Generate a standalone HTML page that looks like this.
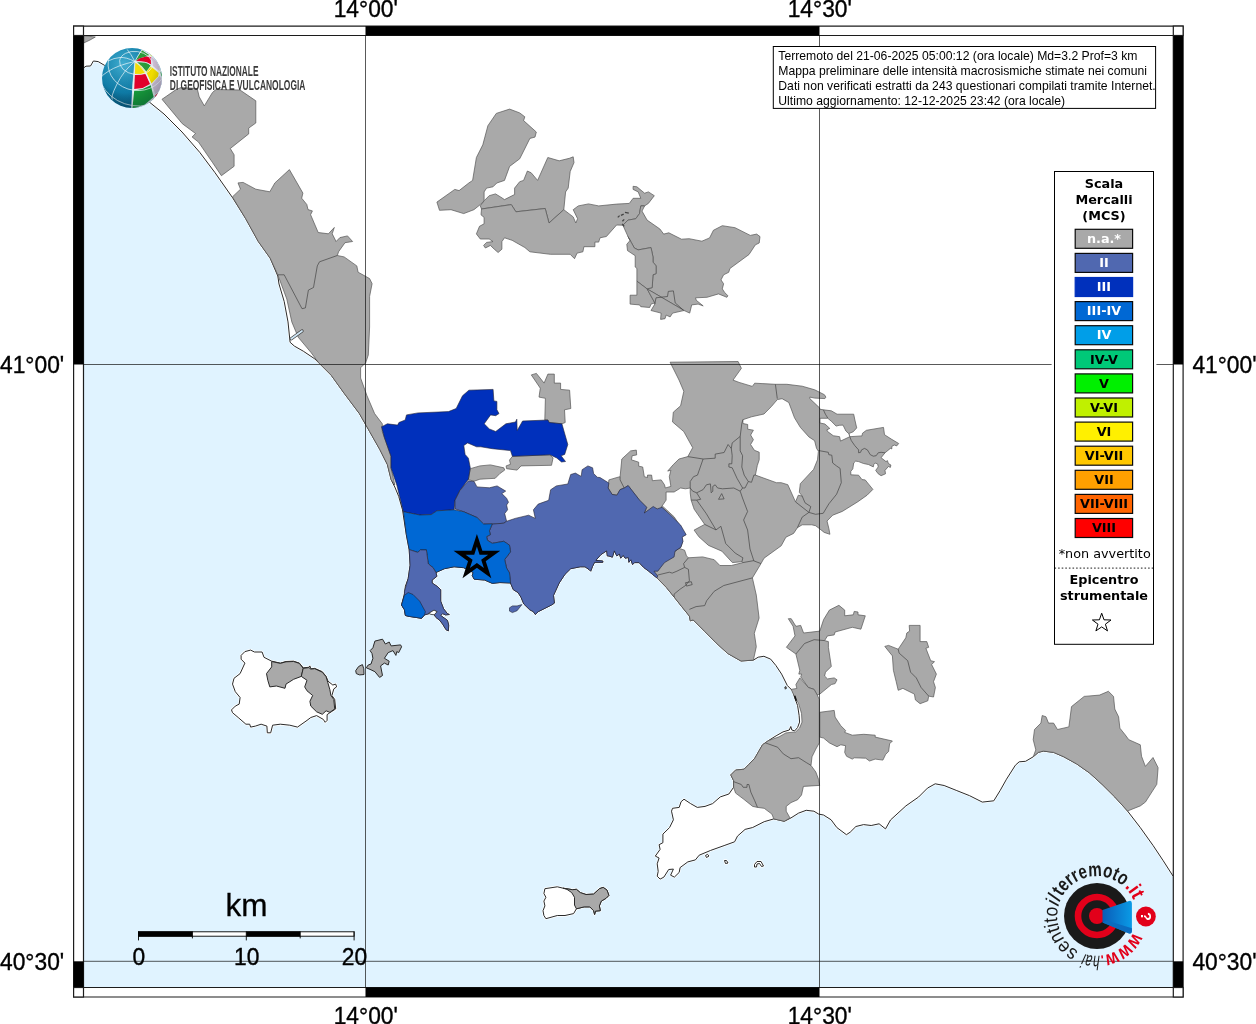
<!DOCTYPE html><html><head><meta charset="utf-8"><title>Mappa intensità macrosismiche</title>
<style>html,body{margin:0;padding:0;background:#fff}svg{display:block}text{font-family:"Liberation Sans",sans-serif;fill:#000}.dj{font-family:"DejaVu Sans",sans-serif}.djb{font-family:"DejaVu Sans",sans-serif;font-weight:bold}</style></head><body>
<svg width="1256" height="1024" viewBox="0 0 1256 1024">
<defs><clipPath id="mapclip"><rect x="83.5" y="35.5" width="1089.8" height="952.0"/></clipPath>
<linearGradient id="cone" x1="0" y1="0" x2="1" y2="0"><stop offset="0" stop-color="#0a5cb8"/><stop offset="1" stop-color="#0a9be6"/></linearGradient>
<radialGradient id="globe" cx="0.35" cy="0.25" r="0.8"><stop offset="0" stop-color="#35a9cf"/><stop offset="0.6" stop-color="#0f7ba6"/><stop offset="1" stop-color="#075a80"/></radialGradient>
<radialGradient id="shade" cx="0.4" cy="0.3" r="0.75"><stop offset="0" stop-color="#fff" stop-opacity="0.08"/><stop offset="0.6" stop-color="#000" stop-opacity="0"/><stop offset="1" stop-color="#002030" stop-opacity="0.32"/></radialGradient>
<clipPath id="gclip"><circle cx="0" cy="0" r="30"/></clipPath>
</defs>
<rect width="1256" height="1024" fill="#fff"/>
<g clip-path="url(#mapclip)">
<polygon points="83.5,68.0 86.0,66.2 90.5,66.0 93.4,61.0 98.2,61.6 104.6,65.4 112.0,69.0 150.0,102.6 164.0,114.0 182.0,132.0 199.7,152.3 215.0,172.7 232.9,198.2 245.6,218.5 258.3,241.5 270.2,258.2 277.8,276.0 279.0,284.0 284.2,301.5 288.0,321.9 290.1,342.3 294.4,346.1 303.3,351.2 314.8,358.9 318.6,362.7 331.3,375.4 344.1,393.2 359.4,413.6 369.6,431.5 379.7,449.3 387.4,464.6 391.2,479.9 394.8,487.0 398.7,496.4 402.5,509.8 406.3,534.7 409.2,549.9 410.1,565.2 408.2,578.6 405.4,586.2 404.4,593.9 401.5,605.0 404.4,609.7 405.4,615.5 409.2,616.4 421.6,618.3 424.5,614.9 429.2,613.6 434.0,610.3 436.9,611.7 434.0,614.5 435.9,617.4 439.7,620.3 442.6,624.1 446.1,629.8 448.4,630.8 448.7,625.0 447.4,620.3 440.7,615.5 442.6,613.6 445.5,614.9 449.3,614.5 447.4,613.6 443.6,608.8 440.7,601.2 440.7,589.7 437.8,586.8 432.1,583.0 432.1,580.1 436.9,576.3 435.9,572.5 444.5,568.7 454.1,566.8 463.6,567.7 473.2,572.5 472.2,575.4 474.1,579.2 484.7,580.1 492.3,583.4 499.9,582.6 510.5,583.0 513.3,589.7 518.1,592.6 521.0,597.3 523.8,604.0 529.6,609.7 533.4,611.7 535.3,614.5 538.2,611.7 551.5,605.0 554.4,603.1 553.5,595.4 559.2,583.0 564.9,574.4 570.7,568.7 580.2,566.8 585.0,566.8 589.0,569.5 590.7,571.2 592.5,566.5 594.6,562.3 602.8,562.3 602.8,561.0 595.8,560.4 600.9,554.6 606.7,550.8 607.3,555.9 609.0,556.0 612.4,557.2 614.3,550.8 616.8,555.9 619.4,554.0 620.7,558.2 623.2,555.3 625.1,558.2 628.3,557.5 628.9,562.3 630.9,559.7 632.5,564.5 634.7,562.6 639.1,562.6 643.6,567.4 648.7,571.2 652.5,574.4 656.9,577.9 666.4,587.5 674.1,597.0 681.7,606.6 689.4,616.1 690.3,620.9 693.2,619.9 704.7,631.4 716.1,642.9 727.6,653.4 741.0,661.0 753.4,660.1 758.2,657.2 763.9,656.3 770.6,659.1 775.9,665.5 781.6,674.1 787.3,685.5 792.7,690.9 794.7,697.7 797.6,705.5 799.1,715.3 799.6,722.1 797.6,727.5 794.7,730.9 791.8,730.0 790.8,726.5 789.3,730.0 783.0,731.9 776.1,735.8 768.3,740.7 762.5,744.8 754.8,758.2 748.9,764.4 744.1,769.2 735.6,770.1 730.8,774.9 733.6,780.6 733.6,787.3 728.9,794.0 720.3,796.9 712.6,803.6 705.0,806.4 697.3,807.4 690.6,803.6 684.0,799.2 681.1,801.7 679.2,807.4 672.5,808.3 671.5,811.2 673.4,819.8 669.6,827.5 662.9,834.1 662.9,842.7 659.1,844.7 660.1,849.4 655.3,856.1 659.1,858.0 657.2,863.8 658.2,871.4 657.2,876.2 660.1,879.1 663.9,877.1 668.7,869.5 673.4,869.1 670.6,875.2 674.4,877.1 679.2,872.4 680.1,867.6 687.8,861.9 695.4,859.9 699.2,855.2 710.7,850.4 724.1,845.6 734.6,841.8 737.5,836.1 745.1,829.4 752.7,827.5 764.2,821.7 773.8,818.9 784.3,821.3 791.0,817.9 798.6,813.1 806.2,810.3 813.9,811.2 818.7,814.1 823.5,815.0 831.1,819.8 836.8,827.5 846.4,834.7 850.2,832.2 855.9,826.5 863.6,824.6 871.2,825.5 879.1,823.8 885.5,828.9 890.6,819.9 905.9,805.9 918.6,797.0 927.5,788.1 935.2,783.8 944.1,785.5 956.8,790.6 969.6,795.7 982.3,802.1 993.8,800.8 1000.1,790.6 1006.5,779.2 1015.4,765.2 1019.2,761.8 1025.6,761.3 1033.2,756.8 1038.3,752.4 1043.4,751.1 1053.6,752.4 1063.8,756.8 1076.6,763.9 1089.3,772.8 1102.0,784.3 1114.8,797.0 1127.5,811.0 1140.3,827.6 1153.0,845.4 1163.2,860.7 1173.0,876.0 1178.3,876.0 1178.3,992.5 78.5,992.5 78.5,68.2" fill="#e0f3ff"/>
<polyline points="83.5,68.0 86.0,66.2 90.5,66.0 93.4,61.0 98.2,61.6 104.6,65.4 112.0,69.0 150.0,102.6 164.0,114.0 182.0,132.0 199.7,152.3 215.0,172.7 232.9,198.2 245.6,218.5 258.3,241.5 270.2,258.2 277.8,276.0 279.0,284.0 284.2,301.5 288.0,321.9 290.1,342.3 294.4,346.1 303.3,351.2 314.8,358.9 318.6,362.7 331.3,375.4 344.1,393.2 359.4,413.6 369.6,431.5 379.7,449.3 387.4,464.6 391.2,479.9 394.8,487.0 398.7,496.4 402.5,509.8 406.3,534.7 409.2,549.9 410.1,565.2 408.2,578.6 405.4,586.2 404.4,593.9 401.5,605.0 404.4,609.7 405.4,615.5 409.2,616.4 421.6,618.3 424.5,614.9 429.2,613.6 434.0,610.3 436.9,611.7 434.0,614.5 435.9,617.4 439.7,620.3 442.6,624.1 446.1,629.8 448.4,630.8 448.7,625.0 447.4,620.3 440.7,615.5 442.6,613.6 445.5,614.9 449.3,614.5 447.4,613.6 443.6,608.8 440.7,601.2 440.7,589.7 437.8,586.8 432.1,583.0 432.1,580.1 436.9,576.3 435.9,572.5 444.5,568.7 454.1,566.8 463.6,567.7 473.2,572.5 472.2,575.4 474.1,579.2 484.7,580.1 492.3,583.4 499.9,582.6 510.5,583.0 513.3,589.7 518.1,592.6 521.0,597.3 523.8,604.0 529.6,609.7 533.4,611.7 535.3,614.5 538.2,611.7 551.5,605.0 554.4,603.1 553.5,595.4 559.2,583.0 564.9,574.4 570.7,568.7 580.2,566.8 585.0,566.8 589.0,569.5 590.7,571.2 592.5,566.5 594.6,562.3 602.8,562.3 602.8,561.0 595.8,560.4 600.9,554.6 606.7,550.8 607.3,555.9 609.0,556.0 612.4,557.2 614.3,550.8 616.8,555.9 619.4,554.0 620.7,558.2 623.2,555.3 625.1,558.2 628.3,557.5 628.9,562.3 630.9,559.7 632.5,564.5 634.7,562.6 639.1,562.6 643.6,567.4 648.7,571.2 652.5,574.4 656.9,577.9 666.4,587.5 674.1,597.0 681.7,606.6 689.4,616.1 690.3,620.9 693.2,619.9 704.7,631.4 716.1,642.9 727.6,653.4 741.0,661.0 753.4,660.1 758.2,657.2 763.9,656.3 770.6,659.1 775.9,665.5 781.6,674.1 787.3,685.5 792.7,690.9 794.7,697.7 797.6,705.5 799.1,715.3 799.6,722.1 797.6,727.5 794.7,730.9 791.8,730.0 790.8,726.5 789.3,730.0 783.0,731.9 776.1,735.8 768.3,740.7 762.5,744.8 754.8,758.2 748.9,764.4 744.1,769.2 735.6,770.1 730.8,774.9 733.6,780.6 733.6,787.3 728.9,794.0 720.3,796.9 712.6,803.6 705.0,806.4 697.3,807.4 690.6,803.6 684.0,799.2 681.1,801.7 679.2,807.4 672.5,808.3 671.5,811.2 673.4,819.8 669.6,827.5 662.9,834.1 662.9,842.7 659.1,844.7 660.1,849.4 655.3,856.1 659.1,858.0 657.2,863.8 658.2,871.4 657.2,876.2 660.1,879.1 663.9,877.1 668.7,869.5 673.4,869.1 670.6,875.2 674.4,877.1 679.2,872.4 680.1,867.6 687.8,861.9 695.4,859.9 699.2,855.2 710.7,850.4 724.1,845.6 734.6,841.8 737.5,836.1 745.1,829.4 752.7,827.5 764.2,821.7 773.8,818.9 784.3,821.3 791.0,817.9 798.6,813.1 806.2,810.3 813.9,811.2 818.7,814.1 823.5,815.0 831.1,819.8 836.8,827.5 846.4,834.7 850.2,832.2 855.9,826.5 863.6,824.6 871.2,825.5 879.1,823.8 885.5,828.9 890.6,819.9 905.9,805.9 918.6,797.0 927.5,788.1 935.2,783.8 944.1,785.5 956.8,790.6 969.6,795.7 982.3,802.1 993.8,800.8 1000.1,790.6 1006.5,779.2 1015.4,765.2 1019.2,761.8 1025.6,761.3 1033.2,756.8 1038.3,752.4 1043.4,751.1 1053.6,752.4 1063.8,756.8 1076.6,763.9 1089.3,772.8 1102.0,784.3 1114.8,797.0 1127.5,811.0 1140.3,827.6 1153.0,845.4 1163.2,860.7 1173.0,876.0" fill="none" stroke="#fff" stroke-width="2.2" stroke-linejoin="round"/>
<polyline points="83.5,68.0 86.0,66.2 90.5,66.0 93.4,61.0 98.2,61.6 104.6,65.4 112.0,69.0 150.0,102.6 164.0,114.0 182.0,132.0 199.7,152.3 215.0,172.7 232.9,198.2 245.6,218.5 258.3,241.5 270.2,258.2 277.8,276.0 279.0,284.0 284.2,301.5 288.0,321.9 290.1,342.3 294.4,346.1 303.3,351.2 314.8,358.9 318.6,362.7 331.3,375.4 344.1,393.2 359.4,413.6 369.6,431.5 379.7,449.3 387.4,464.6 391.2,479.9 394.8,487.0 398.7,496.4 402.5,509.8 406.3,534.7 409.2,549.9 410.1,565.2 408.2,578.6 405.4,586.2 404.4,593.9 401.5,605.0 404.4,609.7 405.4,615.5 409.2,616.4 421.6,618.3 424.5,614.9 429.2,613.6 434.0,610.3 436.9,611.7 434.0,614.5 435.9,617.4 439.7,620.3 442.6,624.1 446.1,629.8 448.4,630.8 448.7,625.0 447.4,620.3 440.7,615.5 442.6,613.6 445.5,614.9 449.3,614.5 447.4,613.6 443.6,608.8 440.7,601.2 440.7,589.7 437.8,586.8 432.1,583.0 432.1,580.1 436.9,576.3 435.9,572.5 444.5,568.7 454.1,566.8 463.6,567.7 473.2,572.5 472.2,575.4 474.1,579.2 484.7,580.1 492.3,583.4 499.9,582.6 510.5,583.0 513.3,589.7 518.1,592.6 521.0,597.3 523.8,604.0 529.6,609.7 533.4,611.7 535.3,614.5 538.2,611.7 551.5,605.0 554.4,603.1 553.5,595.4 559.2,583.0 564.9,574.4 570.7,568.7 580.2,566.8 585.0,566.8 589.0,569.5 590.7,571.2 592.5,566.5 594.6,562.3 602.8,562.3 602.8,561.0 595.8,560.4 600.9,554.6 606.7,550.8 607.3,555.9 609.0,556.0 612.4,557.2 614.3,550.8 616.8,555.9 619.4,554.0 620.7,558.2 623.2,555.3 625.1,558.2 628.3,557.5 628.9,562.3 630.9,559.7 632.5,564.5 634.7,562.6 639.1,562.6 643.6,567.4 648.7,571.2 652.5,574.4 656.9,577.9 666.4,587.5 674.1,597.0 681.7,606.6 689.4,616.1 690.3,620.9 693.2,619.9 704.7,631.4 716.1,642.9 727.6,653.4 741.0,661.0 753.4,660.1 758.2,657.2 763.9,656.3 770.6,659.1 775.9,665.5 781.6,674.1 787.3,685.5 792.7,690.9 794.7,697.7 797.6,705.5 799.1,715.3 799.6,722.1 797.6,727.5 794.7,730.9 791.8,730.0 790.8,726.5 789.3,730.0 783.0,731.9 776.1,735.8 768.3,740.7 762.5,744.8 754.8,758.2 748.9,764.4 744.1,769.2 735.6,770.1 730.8,774.9 733.6,780.6 733.6,787.3 728.9,794.0 720.3,796.9 712.6,803.6 705.0,806.4 697.3,807.4 690.6,803.6 684.0,799.2 681.1,801.7 679.2,807.4 672.5,808.3 671.5,811.2 673.4,819.8 669.6,827.5 662.9,834.1 662.9,842.7 659.1,844.7 660.1,849.4 655.3,856.1 659.1,858.0 657.2,863.8 658.2,871.4 657.2,876.2 660.1,879.1 663.9,877.1 668.7,869.5 673.4,869.1 670.6,875.2 674.4,877.1 679.2,872.4 680.1,867.6 687.8,861.9 695.4,859.9 699.2,855.2 710.7,850.4 724.1,845.6 734.6,841.8 737.5,836.1 745.1,829.4 752.7,827.5 764.2,821.7 773.8,818.9 784.3,821.3 791.0,817.9 798.6,813.1 806.2,810.3 813.9,811.2 818.7,814.1 823.5,815.0 831.1,819.8 836.8,827.5 846.4,834.7 850.2,832.2 855.9,826.5 863.6,824.6 871.2,825.5 879.1,823.8 885.5,828.9 890.6,819.9 905.9,805.9 918.6,797.0 927.5,788.1 935.2,783.8 944.1,785.5 956.8,790.6 969.6,795.7 982.3,802.1 993.8,800.8 1000.1,790.6 1006.5,779.2 1015.4,765.2 1019.2,761.8 1025.6,761.3 1033.2,756.8 1038.3,752.4 1043.4,751.1 1053.6,752.4 1063.8,756.8 1076.6,763.9 1089.3,772.8 1102.0,784.3 1114.8,797.0 1127.5,811.0 1140.3,827.6 1153.0,845.4 1163.2,860.7 1173.0,876.0" fill="none" stroke="#2a2a2a" stroke-width="1" stroke-linejoin="round"/>
<polygon points="241.1,655.4 244.9,651.6 250.6,650.1 254.5,652.0 262.1,652.0 264.0,657.3 271.7,661.2 280.3,663.1 286.0,661.5 293.6,661.2 299.4,663.1 303.2,667.8 308.9,667.3 309.9,665.9 310.8,668.8 314.7,668.4 322.3,671.7 326.1,676.4 328.0,681.2 332.8,685.0 335.7,684.1 336.6,686.9 333.8,688.9 331.9,695.5 334.7,699.4 335.7,708.9 329.9,712.7 327.1,714.7 327.1,720.4 325.2,722.3 323.3,719.4 316.6,715.6 310.8,717.5 307.0,720.4 297.5,727.1 289.8,725.2 280.3,724.2 272.6,725.2 270.7,732.8 267.3,732.8 266.9,726.1 261.1,724.2 255.4,726.1 250.6,727.1 249.7,724.2 245.9,724.2 238.2,717.5 232.5,712.7 231.5,709.9 235.3,706.1 239.2,704.1 240.1,697.5 235.3,691.7 232.5,684.1 234.0,678.3 240.1,673.6 244.9,663.1 241.1,659.2" fill="#fff" stroke="#fff" stroke-width="2.4" stroke-linejoin="round"/>
<polygon points="544.9,888.7 557.3,886.8 563.1,888.2 572.6,889.7 576.4,889.3 580.3,892.6 586.0,894.5 593.6,894.1 599.4,888.7 603.2,887.4 607.0,890.1 608.9,895.4 606.1,898.3 601.3,901.1 599.4,905.9 600.3,910.7 595.5,911.1 594.6,914.5 593.6,910.7 589.8,906.9 584.1,906.9 576.4,908.8 573.6,913.6 565.0,915.5 557.3,915.5 545.9,918.7 543.9,915.5 543.0,910.7 544.9,905.9 543.9,901.1 545.9,897.3 543.9,893.5" fill="#fff" stroke="#fff" stroke-width="2.4" stroke-linejoin="round"/>
<polygon points="705.5,855.5 707.5,854.3 709.0,856.0 706.5,857.5" fill="#fff" stroke="#fff" stroke-width="2.4" stroke-linejoin="round"/>
<polygon points="724.5,860.5 726.5,860.5 728.0,863.0 725.5,863.5" fill="#fff" stroke="#fff" stroke-width="2.4" stroke-linejoin="round"/>
<polygon points="754.5,864.5 757.0,861.5 761.0,861.5 763.5,866.0 761.5,866.5 759.5,863.5 757.0,864.0 756.5,867.0 754.5,867.0" fill="#fff" stroke="#fff" stroke-width="2.4" stroke-linejoin="round"/>
<polygon points="241.1,655.4 244.9,651.6 250.6,650.1 254.5,652.0 262.1,652.0 264.0,657.3 271.7,661.2 280.3,663.1 286.0,661.5 293.6,661.2 299.4,663.1 303.2,667.8 308.9,667.3 309.9,665.9 310.8,668.8 314.7,668.4 322.3,671.7 326.1,676.4 328.0,681.2 332.8,685.0 335.7,684.1 336.6,686.9 333.8,688.9 331.9,695.5 334.7,699.4 335.7,708.9 329.9,712.7 327.1,714.7 327.1,720.4 325.2,722.3 323.3,719.4 316.6,715.6 310.8,717.5 307.0,720.4 297.5,727.1 289.8,725.2 280.3,724.2 272.6,725.2 270.7,732.8 267.3,732.8 266.9,726.1 261.1,724.2 255.4,726.1 250.6,727.1 249.7,724.2 245.9,724.2 238.2,717.5 232.5,712.7 231.5,709.9 235.3,706.1 239.2,704.1 240.1,697.5 235.3,691.7 232.5,684.1 234.0,678.3 240.1,673.6 244.9,663.1 241.1,659.2" fill="#ffffff" stroke="#2a2a2a" stroke-width="1" stroke-linejoin="round"/>
<polygon points="271.7,661.5 280.3,663.4 286.0,661.8 293.6,661.5 299.4,663.4 303.2,668.4 301.3,676.4 293.6,679.3 286.0,684.1 285.0,688.3 276.4,686.0 269.8,686.9 267.8,680.3 266.5,673.6 271.7,666.9" fill="#a9a9a9" stroke="#2a2a2a" stroke-width="1" stroke-linejoin="round"/>
<polygon points="303.2,668.4 308.9,667.6 310.8,669.1 314.7,668.7 322.3,672.2 326.1,676.8 327.7,682.2 329.9,689.8 330.9,695.5 333.8,699.4 334.7,708.9 329.9,712.4 326.1,710.8 322.3,714.3 316.6,711.8 310.8,706.1 309.9,701.3 312.7,695.5 307.0,690.8 304.7,686.9 307.0,680.3 301.3,676.4" fill="#a9a9a9" stroke="#2a2a2a" stroke-width="1" stroke-linejoin="round"/>
<polygon points="355.7,670.7 358.6,666.5 362.4,664.6 363.8,668.8 364.0,674.5 359.6,674.9 356.3,673.6" fill="#a9a9a9" stroke="#2a2a2a" stroke-width="1" stroke-linejoin="round"/>
<polygon points="370.1,650.6 372.9,647.8 374.9,641.1 382.5,639.2 385.4,644.0 389.2,642.0 391.1,645.9 400.6,644.9 401.6,646.8 398.7,652.6 396.8,651.6 395.9,655.4 393.0,650.6 388.2,652.6 384.4,658.3 389.2,661.2 388.2,665.0 384.4,663.1 380.6,665.9 382.5,675.5 379.6,677.4 374.9,671.7 371.0,669.8 366.3,667.8 368.2,665.0 371.0,664.0 372.9,658.3 372.0,653.5" fill="#a9a9a9" stroke="#2a2a2a" stroke-width="1" stroke-linejoin="round"/>
<polygon points="544.9,888.7 557.3,886.8 563.1,888.2 572.6,889.7 576.4,889.3 580.3,892.6 586.0,894.5 593.6,894.1 599.4,888.7 603.2,887.4 607.0,890.1 608.9,895.4 606.1,898.3 601.3,901.1 599.4,905.9 600.3,910.7 595.5,911.1 594.6,914.5 593.6,910.7 589.8,906.9 584.1,906.9 576.4,908.8 573.6,913.6 565.0,915.5 557.3,915.5 545.9,918.7 543.9,915.5 543.0,910.7 544.9,905.9 543.9,901.1 545.9,897.3 543.9,893.5" fill="#ffffff" stroke="#2a2a2a" stroke-width="1" stroke-linejoin="round"/>
<polygon points="563.1,888.2 572.6,889.7 576.4,889.3 580.3,892.6 586.0,894.5 593.6,894.1 599.4,888.7 603.2,887.4 607.0,890.1 608.9,895.4 606.1,898.3 601.3,901.1 599.4,905.9 600.3,910.7 595.5,911.1 594.6,914.5 593.6,910.7 589.8,906.9 584.1,906.9 576.4,908.8 574.5,905.0 574.5,897.3 571.7,892.6 566.9,889.3" fill="#a9a9a9" stroke="#2a2a2a" stroke-width="1" stroke-linejoin="round"/>
<polygon points="705.5,855.5 707.5,854.3 709.0,856.0 706.5,857.5" fill="#ffffff" stroke="#2a2a2a" stroke-width="1" stroke-linejoin="round"/>
<polygon points="724.5,860.5 726.5,860.5 728.0,863.0 725.5,863.5" fill="#ffffff" stroke="#2a2a2a" stroke-width="1" stroke-linejoin="round"/>
<polygon points="754.5,864.5 757.0,861.5 761.0,861.5 763.5,866.0 761.5,866.5 759.5,863.5 757.0,864.0 756.5,867.0 754.5,867.0" fill="#ffffff" stroke="#2a2a2a" stroke-width="1" stroke-linejoin="round"/>
<polygon points="784.8,687.2 785.8,686.6 786.4,688.2 785.4,689.2" fill="#a9a9a9" stroke="#2a2a2a" stroke-width="1" stroke-linejoin="round"/>
<polygon points="83.7,35.7 95.3,37.0 90.0,40.0 83.7,43.0" fill="#a9a9a9" stroke="#555" stroke-width="0.7" stroke-linejoin="round"/>
<polygon points="162.0,99.3 176.8,89.1 181.0,87.6 197.2,88.5 199.2,96.8 204.3,105.9 212.5,92.4 216.0,89.5 240.0,90.0 255.8,100.8 255.8,123.0 248.7,128.1 248.7,133.9 230.3,148.5 234.1,154.8 234.1,166.3 221.4,175.7 212.5,162.5 198.5,142.1 192.1,137.0 195.5,133.5 182.3,123.7" fill="#a9a9a9" stroke="#555" stroke-width="0.7" stroke-linejoin="round"/>
<polygon points="232.4,196.9 240.5,189.2 238.0,182.9 243.1,182.4 255.8,189.2 269.8,191.8 274.9,182.9 289.4,169.6 302.9,193.1 301.7,198.2 306.8,204.5 308.0,209.6 312.4,210.9 310.6,214.7 318.2,232.5 328.4,233.8 334.3,227.5 332.2,233.8 336.1,241.5 339.9,237.6 347.5,235.9 352.6,241.5 345.0,242.7 338.6,251.7 337.3,255.5 344.1,256.9 356.8,265.9 358.1,272.2 369.6,278.6 372.1,283.7 369.6,296.4 369.6,327.0 368.3,355.0 365.7,362.7 360.6,367.8 360.6,378.0 367.0,395.8 374.6,413.6 382.3,423.8 382.3,431.5 384.3,437.2 391.0,456.3 391.0,467.8 394.8,485.0 391.2,479.9 387.4,464.6 379.7,449.3 369.6,431.5 359.4,413.6 344.1,393.2 331.3,375.4 318.6,362.7 311.0,352.5 298.2,337.2 291.8,321.9 286.8,299.0 277.8,274.8 270.2,258.2 258.3,241.5 245.6,218.5" fill="#a9a9a9" stroke="#555" stroke-width="0.7" stroke-linejoin="round"/>
<polygon points="436.9,202.1 454.8,189.4 459.1,190.6 468.8,183.0 472.6,180.4 476.4,157.5 482.8,144.8 487.9,125.7 496.3,113.4 509.6,109.1 519.7,112.9 524.8,116.8 523.6,120.6 536.3,132.0 535.0,137.1 529.9,138.4 523.6,151.1 519.7,158.8 509.6,166.4 504.5,180.4 496.8,183.0 493.0,186.8 486.6,188.1 484.1,191.9 484.1,200.8 480.3,204.6 473.9,209.7 463.7,213.6 451.0,209.7 439.5,210.3" fill="#a9a9a9" stroke="#555" stroke-width="0.7" stroke-linejoin="round"/>
<polygon points="480.3,205.9 484.1,200.8 489.2,195.7 495.5,193.9 500.6,197.0 504.5,199.6 514.6,194.5 514.6,188.1 519.7,181.7 523.6,180.4 527.4,171.0 531.2,172.8 537.6,180.4 547.8,157.5 559.2,160.8 569.4,158.3 573.2,156.8 574.0,162.6 570.2,171.5 568.2,188.1 565.6,191.9 563.8,209.7 549.0,223.0 545.2,208.5 515.9,211.8 511.3,204.6 481.5,209.0" fill="#a9a9a9" stroke="#555" stroke-width="0.7" stroke-linejoin="round"/>
<polygon points="481.5,209.0 511.3,204.6 515.9,211.8 545.2,208.5 549.0,223.0 563.8,209.7 573.2,216.9 575.8,223.0 577.6,218.7 573.2,209.7 578.3,205.9 588.5,203.9 598.7,205.9 616.6,204.1 629.3,203.4 633.1,198.3 640.8,198.3 638.2,191.9 633.1,189.4 633.1,186.3 636.9,186.8 644.6,193.2 648.4,191.9 654.3,195.7 648.4,203.4 644.6,205.9 640.8,205.9 639.5,213.7 635.7,218.8 628.0,220.1 622.9,225.2 616.6,225.0 606.4,236.5 600.0,237.8 598.7,242.1 594.9,242.1 594.9,246.7 583.9,246.7 582.9,251.8 577.1,253.1 574.5,258.7 570.2,254.3 550.3,254.3 529.9,251.8 524.8,247.5 512.1,240.3 504.5,237.8 501.9,241.6 501.9,249.2 498.1,252.5 494.3,249.2 490.4,245.4 485.4,248.0 483.6,245.4 486.6,242.4 493.0,241.6 489.2,239.0 480.3,239.0 476.4,233.9 479.5,226.3 484.1,223.8 484.1,217.4 481.0,214.8" fill="#a9a9a9" stroke="#555" stroke-width="0.7" stroke-linejoin="round"/>
<polygon points="640.8,205.9 644.6,205.9 642.0,211.1 647.1,220.1 659.9,229.0 663.7,234.1 668.8,232.8 681.5,239.2 689.2,238.7 701.9,241.2 709.6,237.9 713.4,230.3 722.3,225.7 735.0,227.7 750.3,235.4 756.7,234.1 760.0,236.6 759.2,243.0 755.4,244.8 749.0,254.5 729.9,268.5 728.7,272.3 723.6,274.8 721.0,279.9 723.6,283.8 722.3,288.9 724.8,292.7 727.9,295.7 726.9,297.3 718.5,293.9 707.0,297.3 695.5,297.8 696.3,300.3 703.2,305.9 698.1,304.1 691.7,304.9 689.7,313.1 684.1,310.5 647.1,288.9 652.2,287.6 653.0,274.8 656.1,273.6 656.1,265.9 653.0,262.1 653.0,257.0 651.0,247.6 638.2,249.9 634.4,248.1 628.0,236.6 622.9,225.2 628.0,220.1 635.7,218.8 639.5,213.7" fill="#a9a9a9" stroke="#555" stroke-width="0.7" stroke-linejoin="round"/>
<polygon points="628.0,236.6 634.4,248.1 638.2,249.9 651.0,247.6 653.0,257.0 653.0,262.1 656.1,265.9 656.1,273.6 653.0,274.8 652.2,287.6 647.1,288.9 636.9,281.2 636.9,268.5 635.2,267.0 635.2,255.7 627.5,250.6 626.8,244.3 630.1,240.4" fill="#a9a9a9" stroke="#555" stroke-width="0.7" stroke-linejoin="round"/>
<polygon points="630.1,295.2 636.9,295.2 636.9,281.2 647.1,288.9 654.8,302.9 651.0,304.1 649.7,307.5 640.8,306.7 639.5,304.9 630.1,304.1" fill="#a9a9a9" stroke="#555" stroke-width="0.7" stroke-linejoin="round"/>
<polygon points="647.1,288.9 684.1,310.5 672.6,313.1 670.1,316.9 666.2,315.1 665.0,318.7 660.6,319.4 661.1,313.1 651.0,310.5 654.8,304.1 654.8,302.9" fill="#a9a9a9" stroke="#555" stroke-width="0.7" stroke-linejoin="round"/>
<polygon points="670.1,362.2 738.1,361.5 741.4,368.3 733.0,380.1 739.1,382.4 752.3,386.4 754.7,383.2 775.4,384.3 786.9,384.3 802.2,386.2 814.7,389.8 824.4,394.7 825.9,397.1 824.9,398.6 814.7,398.1 809.8,397.1 809.8,398.6 819.5,407.8 820.0,409.3 823.4,409.8 831.3,410.8 837.1,414.2 853.7,414.2 854.7,419.1 856.7,427.9 853.2,431.8 848.8,433.5 849.8,436.7 862.0,435.9 862.5,433.2 866.4,430.3 883.5,427.4 884.5,434.7 891.3,439.1 898.7,443.5 896.7,445.9 894.3,445.0 891.8,446.4 891.8,448.9 890.4,448.4 885.0,452.8 881.1,457.7 886.0,461.6 887.4,460.6 888.4,463.5 890.9,465.0 890.4,467.4 888.4,466.5 885.0,470.4 885.5,473.8 881.1,475.7 878.2,473.8 875.7,470.4 878.2,466.9 877.7,464.0 875.2,463.0 873.8,464.5 873.3,466.9 868.4,464.5 863.5,463.5 858.6,461.6 855.7,461.1 853.7,463.0 852.8,468.9 850.8,471.3 850.8,474.8 858.6,475.2 862.0,479.6 865.2,479.9 872.9,489.4 867.1,495.2 857.6,501.9 842.3,511.4 832.7,515.2 827.0,521.0 828.9,528.6 829.9,534.3 824.2,532.4 819.4,528.6 815.6,525.7 811.7,524.8 802.2,524.8 797.4,527.7 793.6,533.4 785.9,537.2 781.2,545.8 764.0,558.2 761.0,563.6 752.4,577.9 756.3,595.1 759.1,618.0 754.3,633.3 756.3,646.7 753.4,660.1 741.0,661.0 727.6,653.4 716.1,642.9 704.7,631.4 693.2,619.9 690.3,620.9 689.4,616.1 681.7,606.6 674.1,597.0 666.4,587.5 656.9,577.9 652.0,570.0 657.8,560.0 670.0,545.0 675.0,530.0 660.0,520.0 644.3,513.3 646.7,507.3 639.5,500.1 628.2,485.6 624.2,488.0 620.1,489.6 616.9,495.2 612.1,494.4 608.1,488.0 608.9,479.9 616.9,477.5 620.1,476.7 621.8,459.0 630.6,450.9 636.3,450.1 636.7,454.9 632.2,455.7 631.4,459.8 638.7,462.2 638.7,466.2 642.7,467.0 644.3,476.7 647.5,477.5 647.5,475.1 651.6,475.1 652.4,480.7 661.2,479.9 664.5,484.8 665.3,488.0 670.9,486.4 669.3,476.7 670.9,470.2 667.7,471.1 673.3,464.6 679.0,459.0 687.8,456.6 692.7,447.7 683.8,431.6 672.5,421.9 673.3,412.2 680.6,405.8 683.8,391.3 679.0,380.0" fill="#a9a9a9" stroke="#555" stroke-width="0.7" stroke-linejoin="round"/>
<polygon points="531.3,374.9 536.4,373.4 544.1,383.1 547.9,374.1 554.3,374.1 554.3,383.1 560.6,383.1 560.6,389.4 569.6,390.2 570.8,408.5 564.5,409.8 565.2,422.5 561.9,423.8 549.2,422.5 547.9,420.0 544.8,420.0 545.4,398.3 539.0,397.1 540.3,388.2" fill="#a9a9a9" stroke="#555" stroke-width="0.7" stroke-linejoin="round"/>
<polygon points="470.3,468.7 479.9,465.9 490.4,464.9 503.8,467.8 504.7,470.1 499.9,473.5 495.2,478.3 479.9,479.2 474.1,481.2 468.4,479.6" fill="#a9a9a9" stroke="#555" stroke-width="0.7" stroke-linejoin="round"/>
<polygon points="512.4,456.3 549.6,454.8 553.1,457.8 551.5,465.3 521.0,465.9 517.1,470.1 506.6,468.7 506.1,465.9 510.5,464.3 509.5,460.1" fill="#a9a9a9" stroke="#555" stroke-width="0.7" stroke-linejoin="round"/>
<polygon points="788.3,618.7 791.2,618.7 795.9,626.3 800.7,625.4 803.6,633.0 819.8,631.1 823.6,619.6 829.4,610.1 838.9,605.3 844.7,610.1 844.7,615.8 853.3,614.8 854.2,611.4 858.0,612.0 858.0,614.8 865.3,615.8 860.9,629.2 852.3,627.3 835.1,632.0 834.2,634.9 827.5,635.9 824.6,640.6 828.4,641.6 828.4,647.3 831.3,666.4 825.5,672.2 824.6,676.0 827.5,678.9 834.2,677.9 837.0,679.8 835.1,683.6 831.3,684.6 819.8,694.1 817.0,695.1 814.1,689.4 808.4,687.5 800.7,676.9 801.7,674.1 798.8,674.1 799.8,670.3 795.9,654.0 786.4,647.3 795.0,635.9 793.1,626.3" fill="#a9a9a9" stroke="#555" stroke-width="0.7" stroke-linejoin="round"/>
<polygon points="791.2,689.4 796.9,688.4 795.9,684.6 799.8,677.9 808.4,687.5 814.1,689.4 817.3,695.1 819.3,699.5 819.3,723.8 819.3,742.9 815.8,749.1 812.0,756.8 811.0,765.4 815.8,772.0 818.7,779.7 819.6,785.4 803.4,786.4 801.5,795.0 797.7,799.7 791.0,802.6 786.2,806.4 786.2,811.2 790.0,817.9 784.3,821.3 773.8,818.9 771.9,814.1 764.2,808.3 757.5,807.4 752.7,806.4 743.2,798.8 735.6,793.1 733.6,787.3 733.6,780.6 730.8,774.9 735.6,770.1 744.1,769.2 748.9,764.4 754.8,758.2 762.5,744.8 768.3,740.7 779.1,736.8 785.9,732.9 795.7,731.9 799.6,728.0 802.0,722.1 801.5,713.4 798.6,703.6 794.7,697.0" fill="#a9a9a9" stroke="#555" stroke-width="0.7" stroke-linejoin="round"/>
<polygon points="819.8,712.3 834.2,710.4 835.1,717.1 840.8,725.7 845.6,730.5 844.7,732.4 852.3,735.2 863.8,734.3 875.2,735.2 875.2,737.1 892.4,741.0 889.6,743.8 888.6,751.5 885.7,754.3 882.9,760.1 875.2,759.1 869.5,761.0 865.7,758.2 854.2,757.8 852.3,759.1 846.6,756.3 844.7,752.4 845.6,745.7 840.8,744.8 837.0,746.7 829.4,742.9 823.6,738.1 819.8,737.1" fill="#a9a9a9" stroke="#555" stroke-width="0.7" stroke-linejoin="round"/>
<polygon points="884.8,646.4 888.6,645.4 898.2,649.2 905.8,637.8 906.8,633.0 909.6,631.1 909.2,625.4 920.1,625.4 920.1,641.6 926.8,641.6 928.7,647.3 925.9,648.3 930.7,660.7 934.5,661.7 931.6,664.5 936.4,674.1 933.5,681.7 935.4,687.5 933.5,697.0 928.7,696.1 927.8,700.8 920.1,703.7 915.4,699.9 914.4,694.1 902.9,688.4 898.2,690.3 896.2,681.7 893.4,670.3 892.4,655.9 888.6,651.2" fill="#a9a9a9" stroke="#555" stroke-width="0.7" stroke-linejoin="round"/>
<polygon points="1033.2,756.8 1035.8,749.9 1033.2,739.7 1034.5,729.5 1040.9,723.1 1042.2,715.5 1046.0,716.8 1048.5,723.1 1053.6,723.1 1057.5,729.5 1068.9,726.9 1071.5,706.6 1084.2,696.4 1099.5,695.1 1108.4,691.3 1113.5,696.4 1114.8,709.1 1118.6,716.8 1119.9,728.2 1125.0,734.6 1128.8,739.7 1140.3,744.8 1141.5,756.2 1145.4,766.4 1153.0,757.5 1158.1,767.7 1156.8,784.3 1145.4,802.1 1140.3,805.9 1127.5,811.0 1114.8,797.0 1102.0,784.3 1089.3,772.8 1076.6,763.9 1063.8,756.8 1053.6,752.4 1043.4,751.1 1038.3,752.4" fill="#a9a9a9" stroke="#555" stroke-width="0.7" stroke-linejoin="round"/>
<polygon points="666.1,492.0 674.1,492.0 680.6,488.0 685.4,488.8 690.2,488.0 690.2,492.8 691.1,500.1 693.5,507.3 694.1,509.1 704.7,524.4 694.1,530.1 698.9,536.8 708.5,545.4 721.9,551.2 732.4,562.6 741.9,561.7 742.9,562.6 731.4,565.5 719.9,565.5 714.2,559.7 702.7,556.9 688.4,557.8 686.5,555.9 684.6,550.2 678.9,548.3 675.0,551.2 680.8,547.3 682.7,541.6 681.7,536.8 685.5,534.9 679.8,525.4 674.1,516.8 662.6,506.2 661.2,507.3 666.1,500.1" fill="#fff" stroke="#555" stroke-width="0.7" stroke-linejoin="round"/>
<polygon points="820.0,418.3 827.8,418.3 831.3,421.2 836.1,426.1 839.1,425.3 843.0,425.1 845.9,431.0 848.8,433.7 849.8,436.7 840.5,441.1 839.6,436.7 833.2,435.7 827.4,431.3 826.9,429.8 829.8,428.4 824.9,424.0 820.0,423.0" fill="#fff" stroke="#555" stroke-width="0.7" stroke-linejoin="round"/>
<polygon points="742.9,419.7 751.5,416.8 764.0,414.0 771.6,406.3 777.3,399.6 782.1,398.7 788.8,402.5 794.5,417.8 800.3,427.3 808.9,436.9 814.6,440.7 816.5,448.3 818.4,451.2 817.5,459.8 813.6,469.4 800.3,483.7 799.3,492.3 802.2,496.1 798.3,495.2 795.5,501.9 787.8,484.7 781.2,482.7 776.4,482.7 758.2,476.1 755.4,475.1 757.3,465.5 759.2,459.8 759.2,452.2 754.4,450.3 750.6,444.5 753.4,439.7 750.6,435.0 753.4,430.2 747.7,429.2 747.7,424.5 742.9,423.5" fill="#fff" stroke="#555" stroke-width="0.7" stroke-linejoin="round"/>
<polyline points="337.3,255.5 319.5,261.8 317.3,265.9 313.5,287.5 308.4,290.1 305.4,307.9 302.0,308.7 284.2,274.8 277.8,274.8" fill="none" stroke="#444" stroke-width="0.7" stroke-linejoin="round"/>
<polyline points="656.0,297.8 667.5,296.5 668.3,291.4 673.4,290.9 675.2,302.9 683.0,309.8" fill="none" stroke="#444" stroke-width="0.7" stroke-linejoin="round"/>
<polyline points="654.8,304.1 656.0,297.8" fill="none" stroke="#444" stroke-width="0.7" stroke-linejoin="round"/>
<polyline points="687.8,456.6 703.1,459.0 715.2,458.2 715.2,454.1 724.1,452.5 728.1,444.5 731.3,448.5 732.2,442.9 740.2,436.4 741.8,423.5 742.9,419.7" fill="none" stroke="#444" stroke-width="0.7" stroke-linejoin="round"/>
<polyline points="703.1,459.0 697.5,475.1 693.5,476.7 690.2,481.5 690.2,488.0" fill="none" stroke="#444" stroke-width="0.7" stroke-linejoin="round"/>
<polyline points="690.2,488.0 692.7,491.2 696.7,492.8 703.1,489.6 706.4,484.8 710.4,483.9 711.2,492.8 712.8,491.2 712.8,486.4 715.2,484.8 717.6,488.0 722.5,488.8 733.8,488.0 740.2,491.2 742.6,488.0" fill="none" stroke="#444" stroke-width="0.7" stroke-linejoin="round"/>
<polyline points="731.3,448.5 732.2,455.7 731.8,463.8 728.9,463.8 728.9,467.0 732.2,467.8 737.0,478.3 742.6,488.0" fill="none" stroke="#444" stroke-width="0.7" stroke-linejoin="round"/>
<polyline points="740.2,436.4 740.2,450.9 742.6,455.7 741.8,467.0 744.2,475.1 748.3,481.5" fill="none" stroke="#444" stroke-width="0.7" stroke-linejoin="round"/>
<polyline points="742.6,488.0 745.0,488.0 748.3,481.5 751.5,482.3 753.9,475.1 755.4,475.1" fill="none" stroke="#444" stroke-width="0.7" stroke-linejoin="round"/>
<polyline points="696.7,492.8 700.7,499.3 696.7,500.1 691.1,500.1" fill="none" stroke="#444" stroke-width="0.7" stroke-linejoin="round"/>
<polyline points="696.7,500.1 706.4,513.8 716.0,529.9 720.9,526.3 725.7,543.5 735.2,553.1 742.9,557.8 741.9,561.7" fill="none" stroke="#444" stroke-width="0.7" stroke-linejoin="round"/>
<polyline points="704.7,524.4 716.0,529.9" fill="none" stroke="#444" stroke-width="0.7" stroke-linejoin="round"/>
<polyline points="740.2,491.2 742.5,498.0 747.6,511.5 743.6,520.0 747.6,530.0 750.0,549.0 753.9,561.0" fill="none" stroke="#444" stroke-width="0.7" stroke-linejoin="round"/>
<polyline points="742.9,562.6 753.4,560.7 761.0,563.6" fill="none" stroke="#444" stroke-width="0.7" stroke-linejoin="round"/>
<polyline points="657.8,575.0 669.3,572.2 672.2,573.1 676.9,571.2 684.6,567.4" fill="none" stroke="#444" stroke-width="0.7" stroke-linejoin="round"/>
<polyline points="688.4,557.8 683.6,563.6 684.6,567.4 688.4,569.3 689.4,580.8 685.5,585.5 679.8,589.4 674.1,594.1 674.1,597.0" fill="none" stroke="#444" stroke-width="0.7" stroke-linejoin="round"/>
<polyline points="689.4,609.4 696.1,606.6 704.7,605.6 706.6,600.8 714.2,591.3 723.8,585.5 752.4,577.9" fill="none" stroke="#444" stroke-width="0.7" stroke-linejoin="round"/>
<polyline points="685.5,582.7 691.3,581.7 692.2,584.6 686.5,586.1 685.5,582.7" fill="none" stroke="#444" stroke-width="0.7" stroke-linejoin="round"/>
<polyline points="718.5,499.3 721.7,493.6 724.1,498.9 718.5,499.3" fill="none" stroke="#444" stroke-width="0.7" stroke-linejoin="round"/>
<polyline points="775.4,384.3 777.3,398.7" fill="none" stroke="#444" stroke-width="0.7" stroke-linejoin="round"/>
<polyline points="818.4,450.5 828.3,452.3 828.8,454.7 831.8,455.2 832.7,463.0 836.6,466.0 840.1,468.4 841.3,482.7 836.6,494.2 828.9,503.8 823.2,513.3 815.6,514.3 808.9,512.4" fill="none" stroke="#444" stroke-width="0.7" stroke-linejoin="round"/>
<polyline points="795.5,501.9 808.9,512.4 810.8,506.6 805.0,502.8 802.2,496.1" fill="none" stroke="#444" stroke-width="0.7" stroke-linejoin="round"/>
<polyline points="808.9,512.4 802.2,517.1 797.4,527.7" fill="none" stroke="#444" stroke-width="0.7" stroke-linejoin="round"/>
<polyline points="823.4,409.8 825.4,414.2 827.8,418.1" fill="none" stroke="#444" stroke-width="0.7" stroke-linejoin="round"/>
<polyline points="849.8,436.7 851.3,440.6 854.7,445.5 858.6,449.9 858.6,452.8 860.6,452.3 861.5,449.9 864.5,448.4 867.4,449.9 870.3,454.7 873.3,456.2 876.2,455.7 878.2,452.8 881.1,452.3 885.0,452.8" fill="none" stroke="#444" stroke-width="0.7" stroke-linejoin="round"/>
<polyline points="620.1,476.7 620.1,479.9 624.2,488.0" fill="none" stroke="#444" stroke-width="0.7" stroke-linejoin="round"/>
<polyline points="422.6,515.0 422.6,521.3" fill="none" stroke="#444" stroke-width="0.7" stroke-linejoin="round"/>
<polyline points="795.9,654.0 804.5,643.5 814.1,639.7 824.6,640.6" fill="none" stroke="#444" stroke-width="0.7" stroke-linejoin="round"/>
<polyline points="765.4,742.9 777.6,747.2 783.3,753.9 791.0,758.7 798.6,757.7 806.2,762.5 811.0,765.4" fill="none" stroke="#444" stroke-width="0.7" stroke-linejoin="round"/>
<polyline points="733.6,781.6 741.3,784.5 743.2,787.3 747.0,787.3 747.0,784.5 748.9,784.5 750.8,792.1 754.7,800.7 757.5,807.4" fill="none" stroke="#444" stroke-width="0.7" stroke-linejoin="round"/>
<polyline points="898.2,649.2 899.1,653.1 907.7,660.7 910.6,672.2 916.3,677.9 921.1,687.5 928.7,696.1" fill="none" stroke="#444" stroke-width="0.7" stroke-linejoin="round"/>
<polygon points="382.3,426.4 387.4,423.8 397.6,425.1 398.9,422.5 405.2,420.0 406.5,414.9 418.0,412.9 448.5,411.6 456.2,408.5 462.5,395.8 468.9,390.2 493.1,389.4 493.9,400.9 496.9,401.4 496.9,409.8 499.0,413.6 495.7,415.7 490.6,414.9 484.2,423.8 489.3,428.9 495.7,431.5 505.9,423.8 515.5,422.0 516.8,419.2 517.2,430.5 522.6,421.0 547.9,420.0 549.2,422.5 561.9,423.8 567.8,444.5 564.7,454.4 561.1,455.8 565.5,461.5 561.5,462.0 556.8,458.0 550.0,454.8 512.4,456.3 510.5,450.6 492.3,448.7 480.8,446.8 476.6,446.8 467.6,442.9 463.8,445.5 465.1,454.4 468.4,458.2 470.3,467.8 468.4,479.2 459.8,490.7 455.0,500.3 454.1,509.8 436.9,510.8 431.2,514.6 419.7,515.0 403.4,511.7 401.5,504.1 396.8,485.0 391.0,467.8 391.0,456.3 384.3,437.2 381.5,426.7" fill="#0030bc" stroke="#223" stroke-width="0.6" stroke-linejoin="round"/>
<polygon points="468.4,480.8 474.1,481.5 477.0,486.9 489.4,487.8 497.1,485.9 505.7,491.1 501.9,493.6 506.6,498.3 508.5,502.2 506.6,505.0 507.6,509.8 504.7,513.6 506.6,521.3 503.8,523.2 494.2,524.1 492.3,523.8 483.7,524.1 477.0,517.5 463.6,511.7 455.0,508.9 455.0,500.3 459.8,490.7" fill="#5068b0" stroke="#223" stroke-width="0.6" stroke-linejoin="round"/>
<polygon points="492.3,524.1 503.8,523.2 506.6,521.3 515.2,518.4 528.6,515.2 535.3,518.4 533.4,509.8 538.2,504.1 548.7,500.3 550.6,489.8 556.3,485.9 567.8,484.0 570.7,474.5 575.4,473.1 581.2,476.4 582.1,469.7 587.9,465.9 592.6,467.8 593.6,473.5 597.4,477.3 600.0,477.5 608.9,483.1 608.1,488.0 612.1,494.4 616.9,495.2 620.1,489.6 624.2,488.0 628.2,485.6 639.5,500.1 646.7,507.3 644.3,513.0 653.2,506.5 657.2,508.9 662.0,507.3 670.9,515.4 680.6,525.0 686.2,534.7 682.2,537.1 683.0,541.2 680.8,547.3 675.0,551.2 674.1,556.9 664.5,562.6 660.7,567.4 657.8,571.2 654.0,571.2 657.8,576.0 656.9,577.9 652.5,574.4 648.7,571.2 643.6,567.4 639.1,562.6 634.7,562.6 632.5,564.5 630.9,559.7 628.9,562.3 628.3,557.5 625.1,558.2 623.2,555.3 620.7,558.2 619.4,554.0 616.8,555.9 614.3,550.8 612.4,557.2 609.0,556.0 607.3,555.9 606.7,550.8 600.9,554.6 595.8,560.4 602.8,561.0 602.8,562.3 594.6,562.3 592.5,566.5 590.7,571.2 589.0,569.5 585.0,566.8 580.2,566.8 570.7,568.7 564.9,574.4 559.2,583.0 553.5,595.4 554.4,603.1 551.5,605.0 538.2,611.7 535.3,614.5 533.4,611.7 529.6,609.7 523.8,604.0 521.0,597.3 518.1,592.6 513.3,589.7 510.5,583.0 509.5,572.9 506.6,568.1 504.7,559.5 510.5,551.9 509.5,545.2 503.8,541.3 492.3,543.3 487.5,540.4 486.6,536.6 490.4,534.7 489.4,530.8" fill="#5068b0" stroke="#223" stroke-width="0.6" stroke-linejoin="round"/>
<polygon points="403.4,511.7 419.7,515.0 431.2,514.6 436.9,510.8 454.1,509.8 463.6,511.7 477.0,517.5 483.7,524.1 492.3,523.8 489.4,530.8 490.4,534.7 486.6,536.6 487.5,540.4 492.3,543.3 503.8,541.3 509.5,545.2 510.5,551.9 504.7,559.5 506.6,568.1 509.5,572.9 510.5,583.0 499.9,582.6 492.3,583.4 484.7,580.1 474.1,579.2 472.2,575.4 473.2,572.5 463.6,567.7 454.1,566.8 444.5,568.7 435.9,572.5 433.1,567.7 428.3,563.9 426.4,549.9 420.6,549.9 417.8,552.4 409.2,549.6 406.3,534.7" fill="#0068d4" stroke="#223" stroke-width="0.6" stroke-linejoin="round"/>
<polygon points="409.2,549.6 417.8,552.4 420.6,549.9 426.4,549.9 428.3,563.9 433.1,567.7 435.9,572.5 436.9,576.3 432.1,580.1 432.1,583.0 437.8,586.8 440.7,589.7 440.7,601.2 443.6,608.8 447.4,613.6 449.3,614.5 445.5,614.9 442.6,613.6 440.7,615.5 447.4,620.3 448.7,625.0 448.4,630.8 446.1,629.8 442.6,624.1 439.7,620.3 435.9,617.4 434.0,614.5 436.9,611.7 434.0,610.3 429.2,613.6 424.5,614.9 421.6,618.3 409.2,616.4 405.4,615.5 404.4,609.7 401.5,605.0 404.4,595.4 404.4,591.6 408.2,578.2 410.1,565.2" fill="#5068b0" stroke="#223" stroke-width="0.6" stroke-linejoin="round"/>
<polygon points="404.4,595.4 408.2,592.5 413.0,594.5 419.7,601.2 425.4,611.7 424.5,614.9 421.6,618.3 409.2,616.4 405.4,615.5 404.4,609.7 401.5,605.0" fill="#0068d4" stroke="#223" stroke-width="0.6" stroke-linejoin="round"/>
<polygon points="509.5,607.8 512.4,605.9 517.1,605.9 521.9,604.6 517.1,610.7 512.4,612.6 509.5,611.1" fill="#5068b0" stroke="#223" stroke-width="0.6" stroke-linejoin="round"/>
<line x1="291.3" y1="338.8" x2="302" y2="331" stroke="#3c3c3c" stroke-width="3.2" stroke-linecap="round"/>
<line x1="291.3" y1="338.8" x2="302" y2="331" stroke="#cfe6f5" stroke-width="1.8" stroke-linecap="round"/>
<polygon points="428.6,613.4 434,610.1 437.1,611.7 434.2,614.8 431,614.4" fill="#fff" stroke="#2a2a2a" stroke-width="0.8"/>
<line x1="794.7" y1="695.8" x2="796.3" y2="700.7" stroke="#111" stroke-width="1.6"/>
<line x1="617.8" y1="217.4" x2="619.6" y2="215.6" stroke="#444" stroke-width="1.3"/>
<line x1="620.9" y1="215.4" x2="623.7" y2="214.1" stroke="#444" stroke-width="1.3"/>
<line x1="625.0" y1="212.3" x2="628.8" y2="213.1" stroke="#444" stroke-width="1.3"/>
<line x1="622.4" y1="221.2" x2="624.2" y2="219.4" stroke="#444" stroke-width="1.3"/>
<line x1="622.2" y1="223.8" x2="624.2" y2="226.3" stroke="#444" stroke-width="1.3"/>
</g>
<line x1="365.5" y1="35.5" x2="365.5" y2="987.5" stroke="#111" stroke-width="0.7"/>
<line x1="819.5" y1="35.5" x2="819.5" y2="987.5" stroke="#111" stroke-width="0.7"/>
<line x1="83.5" y1="364.5" x2="1173.3" y2="364.5" stroke="#111" stroke-width="0.7"/>
<line x1="83.5" y1="961.3" x2="1173.3" y2="961.3" stroke="#111" stroke-width="0.7"/>
<path d="M73.6 26.1H1183.1V997.0H73.6Z M83.5 35.5H1173.3V987.5H83.5Z" fill="#fff" fill-rule="evenodd" stroke="#1c1c1c" stroke-width="1.2"/>
<rect x="365.5" y="26.1" width="454.0" height="9.4" fill="#000"/>
<rect x="365.5" y="987.5" width="454.0" height="9.5" fill="#000"/>
<rect x="73.6" y="35.5" width="9.9" height="329.0" fill="#000"/>
<rect x="1173.3" y="35.5" width="9.8" height="329.0" fill="#000"/>
<rect x="73.6" y="961.3" width="9.9" height="26.2" fill="#000"/>
<rect x="1173.3" y="961.3" width="9.8" height="26.2" fill="#000"/>
<rect x="73.6" y="26.1" width="9.9" height="9.4" fill="#fff" stroke="#1c1c1c" stroke-width="1.2"/>
<rect x="1173.3" y="26.1" width="9.8" height="9.4" fill="#fff" stroke="#1c1c1c" stroke-width="1.2"/>
<rect x="73.6" y="987.5" width="9.9" height="9.5" fill="#fff" stroke="#1c1c1c" stroke-width="1.2"/>
<rect x="1173.3" y="987.5" width="9.8" height="9.5" fill="#fff" stroke="#1c1c1c" stroke-width="1.2"/>
<g font-size="22.8" stroke="#000" stroke-width="0.35">
<text transform="translate(333.70,16.60) scale(1,1.055)">14°00'</text>
<text transform="translate(787.70,16.60) scale(1,1.055)">14°30'</text>
<text transform="translate(333.70,1023.80) scale(1,1.055)">14°00'</text>
<text transform="translate(787.70,1023.80) scale(1,1.055)">14°30'</text>
<text transform="translate(0.00,372.75) scale(1,1.055)">41°00'</text>
<text transform="translate(0.00,969.55) scale(1,1.055)">40°30'</text>
<text transform="translate(1192.40,372.75) scale(1,1.055)">41°00'</text>
<text transform="translate(1192.40,969.55) scale(1,1.055)">40°30'</text>
</g>
<polygon points="476.9,540.2 481.0,552.8 494.2,552.8 483.5,560.5 487.6,573.1 476.9,565.3 466.2,573.1 470.3,560.5 459.6,552.8 472.8,552.8" fill="none" stroke="#000" stroke-width="3.9" stroke-linejoin="miter" stroke-miterlimit="6"/>
<rect x="773.3" y="46.5" width="382.3" height="61.9" fill="#fff" stroke="#000" stroke-width="1"/>
<text transform="translate(778.3,59.50) scale(1,1.05)" font-size="12.2">Terremoto del 21-06-2025 05:00:12 (ora locale) Md=3.2 Prof=3 km</text>
<text transform="translate(778.3,74.63) scale(1,1.05)" font-size="12.2">Mappa preliminare delle intensità macrosismiche stimate nei comuni</text>
<text transform="translate(778.3,89.76) scale(1,1.05)" font-size="12.2">Dati non verificati estratti da 243 questionari compilati tramite Internet.</text>
<text transform="translate(778.3,104.89) scale(1,1.05)" font-size="12.2">Ultimo aggiornamento: 12-12-2025 23:42 (ora locale)</text>
<rect x="1051.6" y="168.6" width="104.8" height="478.6" fill="#fff"/>
<rect x="1054.5" y="171.5" width="99.0" height="472.8" fill="#fff" stroke="#000" stroke-width="1"/>
<text class="djb" x="1104.0" y="187.9" font-size="12.8" text-anchor="middle">Scala</text>
<text class="djb" x="1104.0" y="203.8" font-size="12.8" text-anchor="middle">Mercalli</text>
<text class="djb" x="1104.0" y="219.8" font-size="12.8" text-anchor="middle">(MCS)</text>
<rect x="1075.2" y="229.3" width="57.4" height="19.0" fill="#a9a9a9" stroke="#0a0a0a" stroke-width="1.2"/>
<text class="djb" x="1104.0" y="243.0" font-size="12.8" text-anchor="middle" style="fill:#fff">n.a.*</text>
<rect x="1075.2" y="253.4" width="57.4" height="19.0" fill="#5068b0" stroke="#0a0a0a" stroke-width="1.2"/>
<text class="djb" x="1104.0" y="267.1" font-size="12.8" text-anchor="middle" style="fill:#fff">II</text>
<rect x="1075.2" y="277.5" width="57.4" height="19.0" fill="#0030bc" stroke="#0030bc" stroke-width="1.2"/>
<text class="djb" x="1104.0" y="291.2" font-size="12.8" text-anchor="middle" style="fill:#fff">III</text>
<rect x="1075.2" y="301.6" width="57.4" height="19.0" fill="#0068d4" stroke="#0a0a0a" stroke-width="1.2"/>
<text class="djb" x="1104.0" y="315.3" font-size="12.8" text-anchor="middle" style="fill:#fff">III-IV</text>
<rect x="1075.2" y="325.7" width="57.4" height="19.0" fill="#009ee8" stroke="#0a0a0a" stroke-width="1.2"/>
<text class="djb" x="1104.0" y="339.4" font-size="12.8" text-anchor="middle" style="fill:#fff">IV</text>
<rect x="1075.2" y="349.8" width="57.4" height="19.0" fill="#00c878" stroke="#0a0a0a" stroke-width="1.2"/>
<text class="djb" x="1104.0" y="363.5" font-size="12.8" text-anchor="middle" style="fill:#000">IV-V</text>
<rect x="1075.2" y="373.9" width="57.4" height="19.0" fill="#00f000" stroke="#0a0a0a" stroke-width="1.2"/>
<text class="djb" x="1104.0" y="387.6" font-size="12.8" text-anchor="middle" style="fill:#000">V</text>
<rect x="1075.2" y="398.0" width="57.4" height="19.0" fill="#c0f000" stroke="#0a0a0a" stroke-width="1.2"/>
<text class="djb" x="1104.0" y="411.7" font-size="12.8" text-anchor="middle" style="fill:#000">V-VI</text>
<rect x="1075.2" y="422.1" width="57.4" height="19.0" fill="#fff000" stroke="#0a0a0a" stroke-width="1.2"/>
<text class="djb" x="1104.0" y="435.8" font-size="12.8" text-anchor="middle" style="fill:#000">VI</text>
<rect x="1075.2" y="446.2" width="57.4" height="19.0" fill="#ffc800" stroke="#0a0a0a" stroke-width="1.2"/>
<text class="djb" x="1104.0" y="459.9" font-size="12.8" text-anchor="middle" style="fill:#000">VI-VII</text>
<rect x="1075.2" y="470.3" width="57.4" height="19.0" fill="#ffa000" stroke="#0a0a0a" stroke-width="1.2"/>
<text class="djb" x="1104.0" y="484.0" font-size="12.8" text-anchor="middle" style="fill:#000">VII</text>
<rect x="1075.2" y="494.4" width="57.4" height="19.0" fill="#ff6400" stroke="#0a0a0a" stroke-width="1.2"/>
<text class="djb" x="1104.0" y="508.1" font-size="12.8" text-anchor="middle" style="fill:#000">VII-VIII</text>
<rect x="1075.2" y="518.5" width="57.4" height="19.0" fill="#ff0000" stroke="#0a0a0a" stroke-width="1.2"/>
<text class="djb" x="1104.0" y="532.2" font-size="12.8" text-anchor="middle" style="fill:#000">VIII</text>
<text class="dj" x="1104.7" y="558" font-size="12.8" text-anchor="middle">*non avvertito</text>
<line x1="1054.5" y1="568.1" x2="1153.5" y2="568.1" stroke="#000" stroke-width="0.9" stroke-dasharray="1.6,2"/>
<text class="djb" x="1104.0" y="584.1" font-size="12.8" text-anchor="middle">Epicentro</text>
<text class="djb" x="1104.0" y="600.1" font-size="12.8" text-anchor="middle">strumentale</text>
<polygon points="1101.7,613.2 1104.0,619.8 1111.0,620.0 1105.4,624.2 1107.5,630.9 1101.7,626.9 1095.9,630.9 1098.0,624.2 1092.4,620.0 1099.4,619.8" fill="#fff" stroke="#000" stroke-width="1"/>
<rect x="138.5" y="931.8" width="215.6" height="4.4" fill="#fff" stroke="#000" stroke-width="0.9"/>
<rect x="138.5" y="931.4" width="53.9" height="5.2" fill="#000"/>
<rect x="246.3" y="931.4" width="53.9" height="5.2" fill="#000"/>
<line x1="138.5" y1="931.4" x2="138.5" y2="940.4" stroke="#000" stroke-width="0.9"/>
<line x1="192.4" y1="931.4" x2="192.4" y2="938.4" stroke="#000" stroke-width="0.9"/>
<line x1="246.3" y1="931.4" x2="246.3" y2="940.4" stroke="#000" stroke-width="0.9"/>
<line x1="300.2" y1="931.4" x2="300.2" y2="938.4" stroke="#000" stroke-width="0.9"/>
<line x1="354.1" y1="931.4" x2="354.1" y2="940.4" stroke="#000" stroke-width="0.9"/>
<text x="246.6" y="916.3" font-size="31.5" stroke="#000" stroke-width="0.3" text-anchor="middle">km</text>
<text transform="translate(138.9,965.2) scale(1,1.055)" font-size="22.8" stroke="#000" stroke-width="0.35" text-anchor="middle">0</text>
<text transform="translate(246.7,965.2) scale(1,1.055)" font-size="22.8" stroke="#000" stroke-width="0.35" text-anchor="middle">10</text>
<text transform="translate(354.5,965.2) scale(1,1.055)" font-size="22.8" stroke="#000" stroke-width="0.35" text-anchor="middle">20</text>
<g transform="translate(132,78)">
<circle r="30" fill="url(#globe)"/>
<g clip-path="url(#gclip)">
<polygon points="2.9,-16.5 9.9,-29 32,-29 32,32 -0.6,32 0.8,5" fill="#e6eef2"/>
<polygon points="2.9,-16.5 9.9,-27.8 17.2,-23.1 14.3,-21.6 7,-19.4 4,-17.2" fill="#2a9d3a"/>
<polygon points="4,-16.8 7,-19.4 14.3,-21.6 18.7,-20.9 19,-13.6 14.3,-15.8 7,-16.5" fill="#e4002b"/>
<polygon points="19.4,-21.6 24.5,-16.8 27.8,-10.3 27.5,-5.9 19.4,-12.5 19,-20.5" fill="#cdbfd6"/>
<polygon points="17.2,-24.5 20,-22 19.4,-21.6" fill="#f2d800"/>
<polygon points="5.1,-15.8 14.3,-15.4 18.7,-12.5 14.3,-6.6 9.9,-11.7" fill="#2a9d3a"/>
<polygon points="3.3,-15.4 8.4,-12.5 12.8,-6.6 13.6,-4.8 7.7,-3.7 2.9,-4" fill="#f7e200"/>
<polygon points="19,-11.4 26.7,-5.1 26,-1.5 19.4,5.5 14.3,-5.9" fill="#f0dc00"/>
<polygon points="2.9,-2.9 13.6,-4 18,5.9 10.6,9.9 2.2,11" fill="#e4002b"/>
<polygon points="2.2,12.5 10.6,11 18.7,7.3 21.6,19 12.8,26.4 0.4,31" fill="#169a3c"/>
<polygon points="19.8,6.6 27.5,-2.2 31,2.9 28.5,12.5 22.3,16.8" fill="#cdbfd6"/>
<polygon points="22.5,18 26.5,14.5 24,19.5" fill="#e4002b"/>
<polygon points="28.3,-6.5 30.5,-3.5 29.5,-1.5" fill="#2a9d3a"/>
<path d="M2.9,-16.5 Q-8,-8 -15,6 T-19.5,21.5" fill="none" stroke="#eef8fc" stroke-width="0.7"/>
<path d="M2.9,-16.5 Q-14,-13 -24,-6.5 T-30,1" fill="none" stroke="#eef8fc" stroke-width="0.7"/>
<path d="M2.9,-16.5 Q-6,-21 -12,-20.5 T-24,-17" fill="none" stroke="#eef8fc" stroke-width="0.7"/>
<path d="M2.9,-16.5 Q-1,-24 -4.8,-28.5" fill="none" stroke="#eef8fc" stroke-width="0.7"/>
<path d="M2.9,-16.5 Q6,-23 9.9,-27.8" fill="none" stroke="#eef8fc" stroke-width="0.7"/>
<path d="M2.9,-16.5 Q0.5,5 -0.4,30" fill="none" stroke="#eef8fc" stroke-width="0.7"/>
<path d="M2.9,-16.5 Q12,-10 18.5,5 T22,19" fill="none" stroke="#eef8fc" stroke-width="0.7"/>
<path d="M2.9,-16.5 Q14,-17 19,-13 T28,-6" fill="none" stroke="#eef8fc" stroke-width="0.7"/>
<ellipse cx="4" cy="-15" rx="16.5" ry="11.5" transform="rotate(8 4 -15)" fill="none" stroke="#eef8fc" stroke-width="0.7"/>
<ellipse cx="5" cy="-13" rx="29" ry="25.5" transform="rotate(8 5 -13)" fill="none" stroke="#eef8fc" stroke-width="0.7"/>
<ellipse cx="6" cy="-11" rx="41" ry="39" transform="rotate(8 6 -11)" fill="none" stroke="#eef8fc" stroke-width="0.7"/>
<circle r="30" fill="url(#shade)"/>
</g></g>
<g font-weight="bold" font-size="14" style="fill:#3a3a3a">
<text x="169.8" y="75.8" textLength="88.7" lengthAdjust="spacingAndGlyphs" style="fill:#3a3a3a">ISTITUTO NAZIONALE</text>
<text x="169.8" y="89.5" textLength="135.6" lengthAdjust="spacingAndGlyphs" style="fill:#3a3a3a">DI GEOFISICA E VULCANOLOGIA</text>
</g>
<g transform="translate(1097.0,916.0)">
<circle r="33" fill="#1a1a1a"/>
<circle r="19" fill="none" stroke="#e2001a" stroke-width="6.6"/>
<circle r="8" fill="#e2001a"/>
<path d="M5.5,-5.9 L32,-15 Q34.9,-16 34.9,-12.5 L34.9,14.5 Q34.9,18.5 31.5,17.2 L5.5,6.4 Z" fill="url(#cone)"/>
<path d="M5.5,6.4 L31.5,17.2 Q34.9,18.5 34.9,14.5 L34.9,12.3 L9.6,4.6 Z" fill="#0b6cc0"/>
<circle cx="48.9" cy="0.5" r="9.9" fill="#e2001a"/>
<text x="48.9" y="0.5" font-size="14.5" font-weight="bold" text-anchor="middle" transform="rotate(90 48.9 0.5)" dy="5.2" style="fill:#fff">?</text>
<path id="lp0" d="M36.36,16.19 A39.80,39.80 0 0 1 7.25,39.13" fill="none"/>
<text font-size="20" font-weight="bold" font-style="normal" style="fill:#e2001a"><textPath href="#lp0" textLength="38.6" lengthAdjust="spacingAndGlyphs">www</textPath></text>
<path id="lp1" d="M6.57,39.25 A39.80,39.80 0 0 1 3.47,39.65" fill="none"/>
<text font-size="20" font-weight="bold" font-style="normal" style="fill:#e2001a"><textPath href="#lp1" textLength="3.1" lengthAdjust="spacingAndGlyphs">.</textPath></text>
<path id="lp2" d="M2.78,39.70 A39.80,39.80 0 0 1 -12.96,37.63" fill="none"/>
<text font-size="20" font-weight="normal" font-style="italic" style="fill:#1a1a1a"><textPath href="#lp2" textLength="16.0" lengthAdjust="spacingAndGlyphs">hai</textPath></text>
<path id="lp3" d="M-18.38,35.30 A39.80,39.80 0 0 1 -38.93,-8.27" fill="none"/>
<text font-size="20" font-weight="normal" font-style="normal" style="fill:#1a1a1a"><textPath href="#lp3" textLength="51.8" lengthAdjust="spacingAndGlyphs">sentito</textPath></text>
<path id="lp4" d="M-38.70,-9.29 A39.80,39.80 0 0 1 -35.46,-18.07" fill="none"/>
<text font-size="20" font-weight="normal" font-style="italic" style="fill:#1a1a1a"><textPath href="#lp4" textLength="9.4" lengthAdjust="spacingAndGlyphs">il</textPath></text>
<path id="lp5" d="M-34.81,-19.30 A39.80,39.80 0 0 1 26.11,-30.04" fill="none"/>
<text font-size="20" font-weight="bold" font-style="normal" style="fill:#1a1a1a"><textPath href="#lp5" textLength="70.9" lengthAdjust="spacingAndGlyphs">terremoto</textPath></text>
<path id="lp6" d="M27.40,-28.87 A39.80,39.80 0 0 1 36.50,-15.87" fill="none"/>
<text font-size="20" font-weight="bold" font-style="normal" style="fill:#e2001a"><textPath href="#lp6" textLength="16.0" lengthAdjust="spacingAndGlyphs">.it</textPath></text>
</g>
</svg></body></html>
